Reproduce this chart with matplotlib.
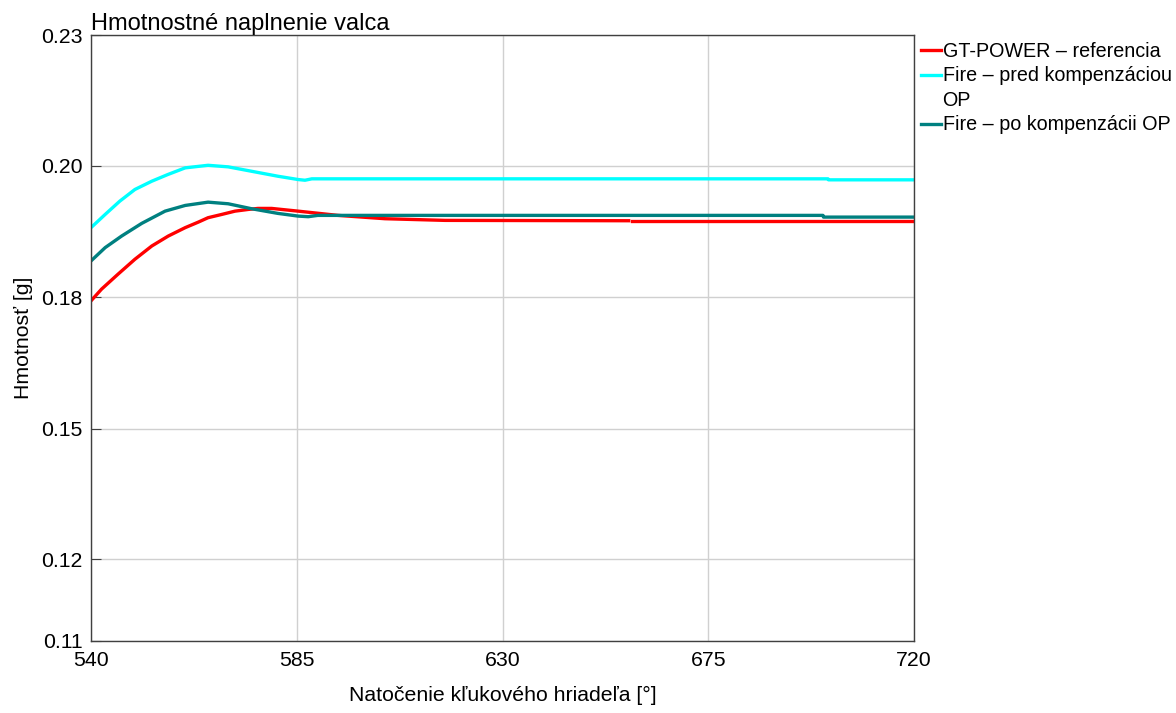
import matplotlib
matplotlib.use("Agg")
import matplotlib.pyplot as plt
from matplotlib.lines import Line2D

plt.rcParams['font.family'] = ['Liberation Sans', 'DejaVu Sans']

# Data (crank angle [deg], mass [g])
red_x = [540, 542.3, 545.9, 549.6, 553.3, 556.9, 560.6, 563.5, 565.6, 568.6, 571.5, 574.4, 576.5, 579.5,
         585.3, 594.0, 604.3, 617.4, 657.6]
red_y = [0.17736, 0.17967, 0.18263, 0.18559, 0.18822, 0.19019, 0.19185, 0.19296, 0.19382, 0.19447, 0.19512,
         0.19546, 0.19566, 0.19566, 0.19512, 0.19428, 0.19362, 0.19329, 0.19322]
red2_x = [658.3, 720]
red2_y = [0.19322, 0.19322]

cyan_x = [540, 543.1, 546.3, 549.6, 553.3, 556.8, 560.6, 565.6, 570.0, 575.1, 580.9, 585.3, 586.8, 588.3,
          701.2, 701.3, 720]
cyan_y = [0.19185, 0.19447, 0.19710, 0.19941, 0.20105, 0.20237, 0.20369, 0.20420, 0.20389, 0.20302, 0.20203,
          0.20138, 0.20124, 0.20152, 0.20152, 0.20132, 0.20132]

teal_x = [540, 543.1, 546.7, 551.1, 556.2, 560.6, 565.6, 570.0, 575.1, 580.9, 585.3, 587.5, 589.6,
          700.1, 700.2, 720]
teal_y = [0.18526, 0.18790, 0.19019, 0.19270, 0.19512, 0.19625, 0.19690, 0.19658, 0.19560, 0.19467, 0.19414,
          0.19402, 0.19428, 0.19428, 0.19394, 0.19394]

x_ticks = [540, 585, 630, 675, 720]
y_ticks = [0.11, 0.12618, 0.15204, 0.17809, 0.20414, 0.23]
y_ticklabels = ["0.11", "0.12", "0.15", "0.18", "0.20", "0.23"]

labels = ["GT-POWER \u2013 referencia", "Fire \u2013 pred kompenzáciou", "OP", "Fire \u2013 po kompenzácii OP"]

fig = plt.figure(figsize=(11.76, 7.13), dpi=100)
ax = fig.add_axes([91/1176, 1 - 641/713, 823/1176, 606/713])

lw = 2.4
l1, = ax.plot(red_x, red_y, color='#ff0000', lw=lw)
ax.plot(red2_x, red2_y, color='#ff0000', lw=lw)
l2, = ax.plot(cyan_x, cyan_y, color='#00ffff', lw=lw)
l3, = ax.plot(teal_x, teal_y, color='#008080', lw=lw)
blank = Line2D([], [], color='none', lw=0)

ax.set_xlim(540, 720)
ax.set_ylim(0.11, 0.23)
ax.set_xticks(x_ticks)
ax.set_xticklabels([str(t) for t in x_ticks])
ax.set_yticks(y_ticks)
ax.set_yticklabels(y_ticklabels)
ax.grid(True, color='#d0d0d0', lw=1.0)
ax.set_axisbelow(True)
for s in ax.spines.values():
    s.set_color('#404040')
    s.set_linewidth(1.0)
fs = 15.3
ax.tick_params(axis='both', direction='in', length=7, color='#404040', labelsize=fs, pad=6)
ax.tick_params(axis='x', length=0, pad=7)

ax.set_xlabel("Natočenie kľukového hriadeľa [°]", fontsize=fs, labelpad=12)
ax.set_ylabel("Hmotnosť [g]", fontsize=fs, labelpad=6)
ax.set_title("Hmotnostné naplnenie valca", loc='left', fontsize=17.0, pad=1)

leg = ax.legend([l1, l2, blank, l3], labels, loc='upper left', bbox_to_anchor=(1.0, 1.0),
                frameon=False, fontsize=14.2, handlelength=1.0, handletextpad=0.1,
                labelspacing=0.28, borderaxespad=0.0, borderpad=0.35)

fig.savefig("out.png", dpi=100)
